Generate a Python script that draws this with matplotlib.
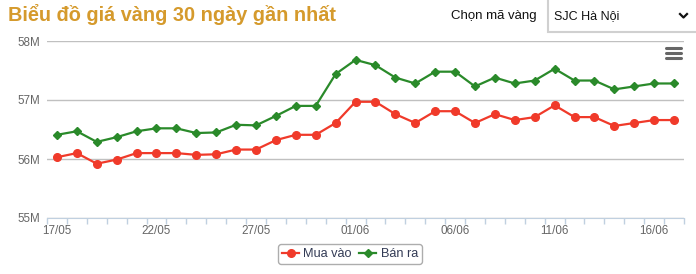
import matplotlib
matplotlib.use('Agg')
import matplotlib.pyplot as plt
from matplotlib.patches import Rectangle
from matplotlib.lines import Line2D

plt.rcParams['font.family'] = ['Liberation Sans', 'DejaVu Sans']

# Dữ liệu 30 ngày (triệu đồng/lượng)
ngay = ['17/05', '18/05', '19/05', '20/05', '21/05', '22/05', '23/05', '24/05',
        '25/05', '26/05', '27/05', '28/05', '29/05', '30/05', '31/05', '01/06',
        '02/06', '03/06', '04/06', '05/06', '06/06', '07/06', '08/06', '09/06',
        '10/06', '11/06', '12/06', '13/06', '14/06', '15/06', '16/06', '17/06']
mua_vao = [56.03, 56.10, 55.92, 55.99, 56.10, 56.10, 56.10, 56.07,
           56.08, 56.16, 56.16, 56.32, 56.41, 56.41, 56.61, 56.97,
           56.97, 56.76, 56.61, 56.81, 56.81, 56.61, 56.76, 56.66,
           56.71, 56.91, 56.71, 56.71, 56.56, 56.61, 56.66, 56.66]
ban_ra = [56.41, 56.47, 56.29, 56.37, 56.47, 56.52, 56.52, 56.44,
          56.45, 56.58, 56.57, 56.73, 56.90, 56.90, 57.44, 57.68,
          57.59, 57.38, 57.28, 57.48, 57.48, 57.23, 57.38, 57.28,
          57.33, 57.53, 57.33, 57.33, 57.18, 57.23, 57.28, 57.28]
y_ticks = [55, 56, 57, 58]

W, H = 696, 274
fig = plt.figure(figsize=(W / 100, H / 100), dpi=100)
ax = fig.add_axes([47 / W, 1 - 218 / H, (684 - 47) / W, (218 - 41) / H])

x = list(range(len(ngay)))
ax.plot(x, mua_vao, color='#f03a2a', lw=1.6, marker='o', ms=5.5, label='Mua vào', zorder=3)
ax.plot(x, ban_ra, color='#2a8a2a', lw=1.6, marker='D', ms=4, label='Bán ra', zorder=3)

ax.set_xlim(-0.5, len(ngay) - 0.5)
ax.set_ylim(55, 58)
ax.set_yticks(y_ticks)
ax.set_yticklabels([f'{v}M' for v in y_ticks])
ax.grid(axis='y', color='#c0c0c0', lw=1)
ax.set_axisbelow(True)

ax.set_xticks(x[::5])
ax.set_xticklabels(ngay[::5])
ax.set_xticks([i - 0.5 for i in range(len(ngay) + 1)], minor=True)
ax.tick_params(axis='x', which='major', length=0, pad=5, labelsize=8.4, labelcolor='#666666')
ax.tick_params(axis='x', which='minor', length=4, width=1, color='#c0d0e0')
ax.tick_params(axis='y', length=0, pad=5, labelsize=8.4, labelcolor='#666666')
for s in ['top', 'right', 'left']:
    ax.spines[s].set_visible(False)
ax.spines['bottom'].set_color('#c0d0e0')

leg = fig.legend(loc='center', bbox_to_anchor=(350 / W, 1 - 254 / H), ncol=2,
                 fontsize=9.2, frameon=True, edgecolor='#999999', fancybox=True,
                 handlelength=1.3, handletextpad=0.35, columnspacing=0.6,
                 borderpad=0.3, borderaxespad=0)
for t in leg.get_texts():
    t.set_color('#333b55')

# tiêu đề và ô chọn
fig.text(8 / W, 1 - 21 / H, 'Biểu đồ giá vàng 30 ngày gần nhất', fontsize=14.3,
         fontweight='bold', color='#d59a2c', va='baseline')
fig.text(537 / W, 1 - 16 / H, 'Chọn mã vàng', fontsize=9.5, color='#111111',
         ha='right', va='center')
fig.patches.append(Rectangle((548 / W, 1 - 32 / H), 200 / W, 40 / H,
                             transform=fig.transFigure, facecolor='white',
                             edgecolor='#d0d0d0', lw=1.5))
fig.text(554 / W, 1 - 16 / H, 'SJC Hà Nội', fontsize=9, color='#111111', va='center')
fig.lines.append(Line2D([680 / W, 683.5 / W, 687 / W], [1 - 14 / H, 1 - 17.5 / H, 1 - 14 / H],
                        transform=fig.transFigure, color='#111111', lw=1.6))

# nút menu
for yy in [48, 53, 58]:
    fig.lines.append(Line2D([666 / W, 681 / W], [1 - yy / H, 1 - yy / H],
                            transform=fig.transFigure, color='#666666', lw=2.2,
                            solid_capstyle='round'))

fig.savefig('out.png', dpi=100)
